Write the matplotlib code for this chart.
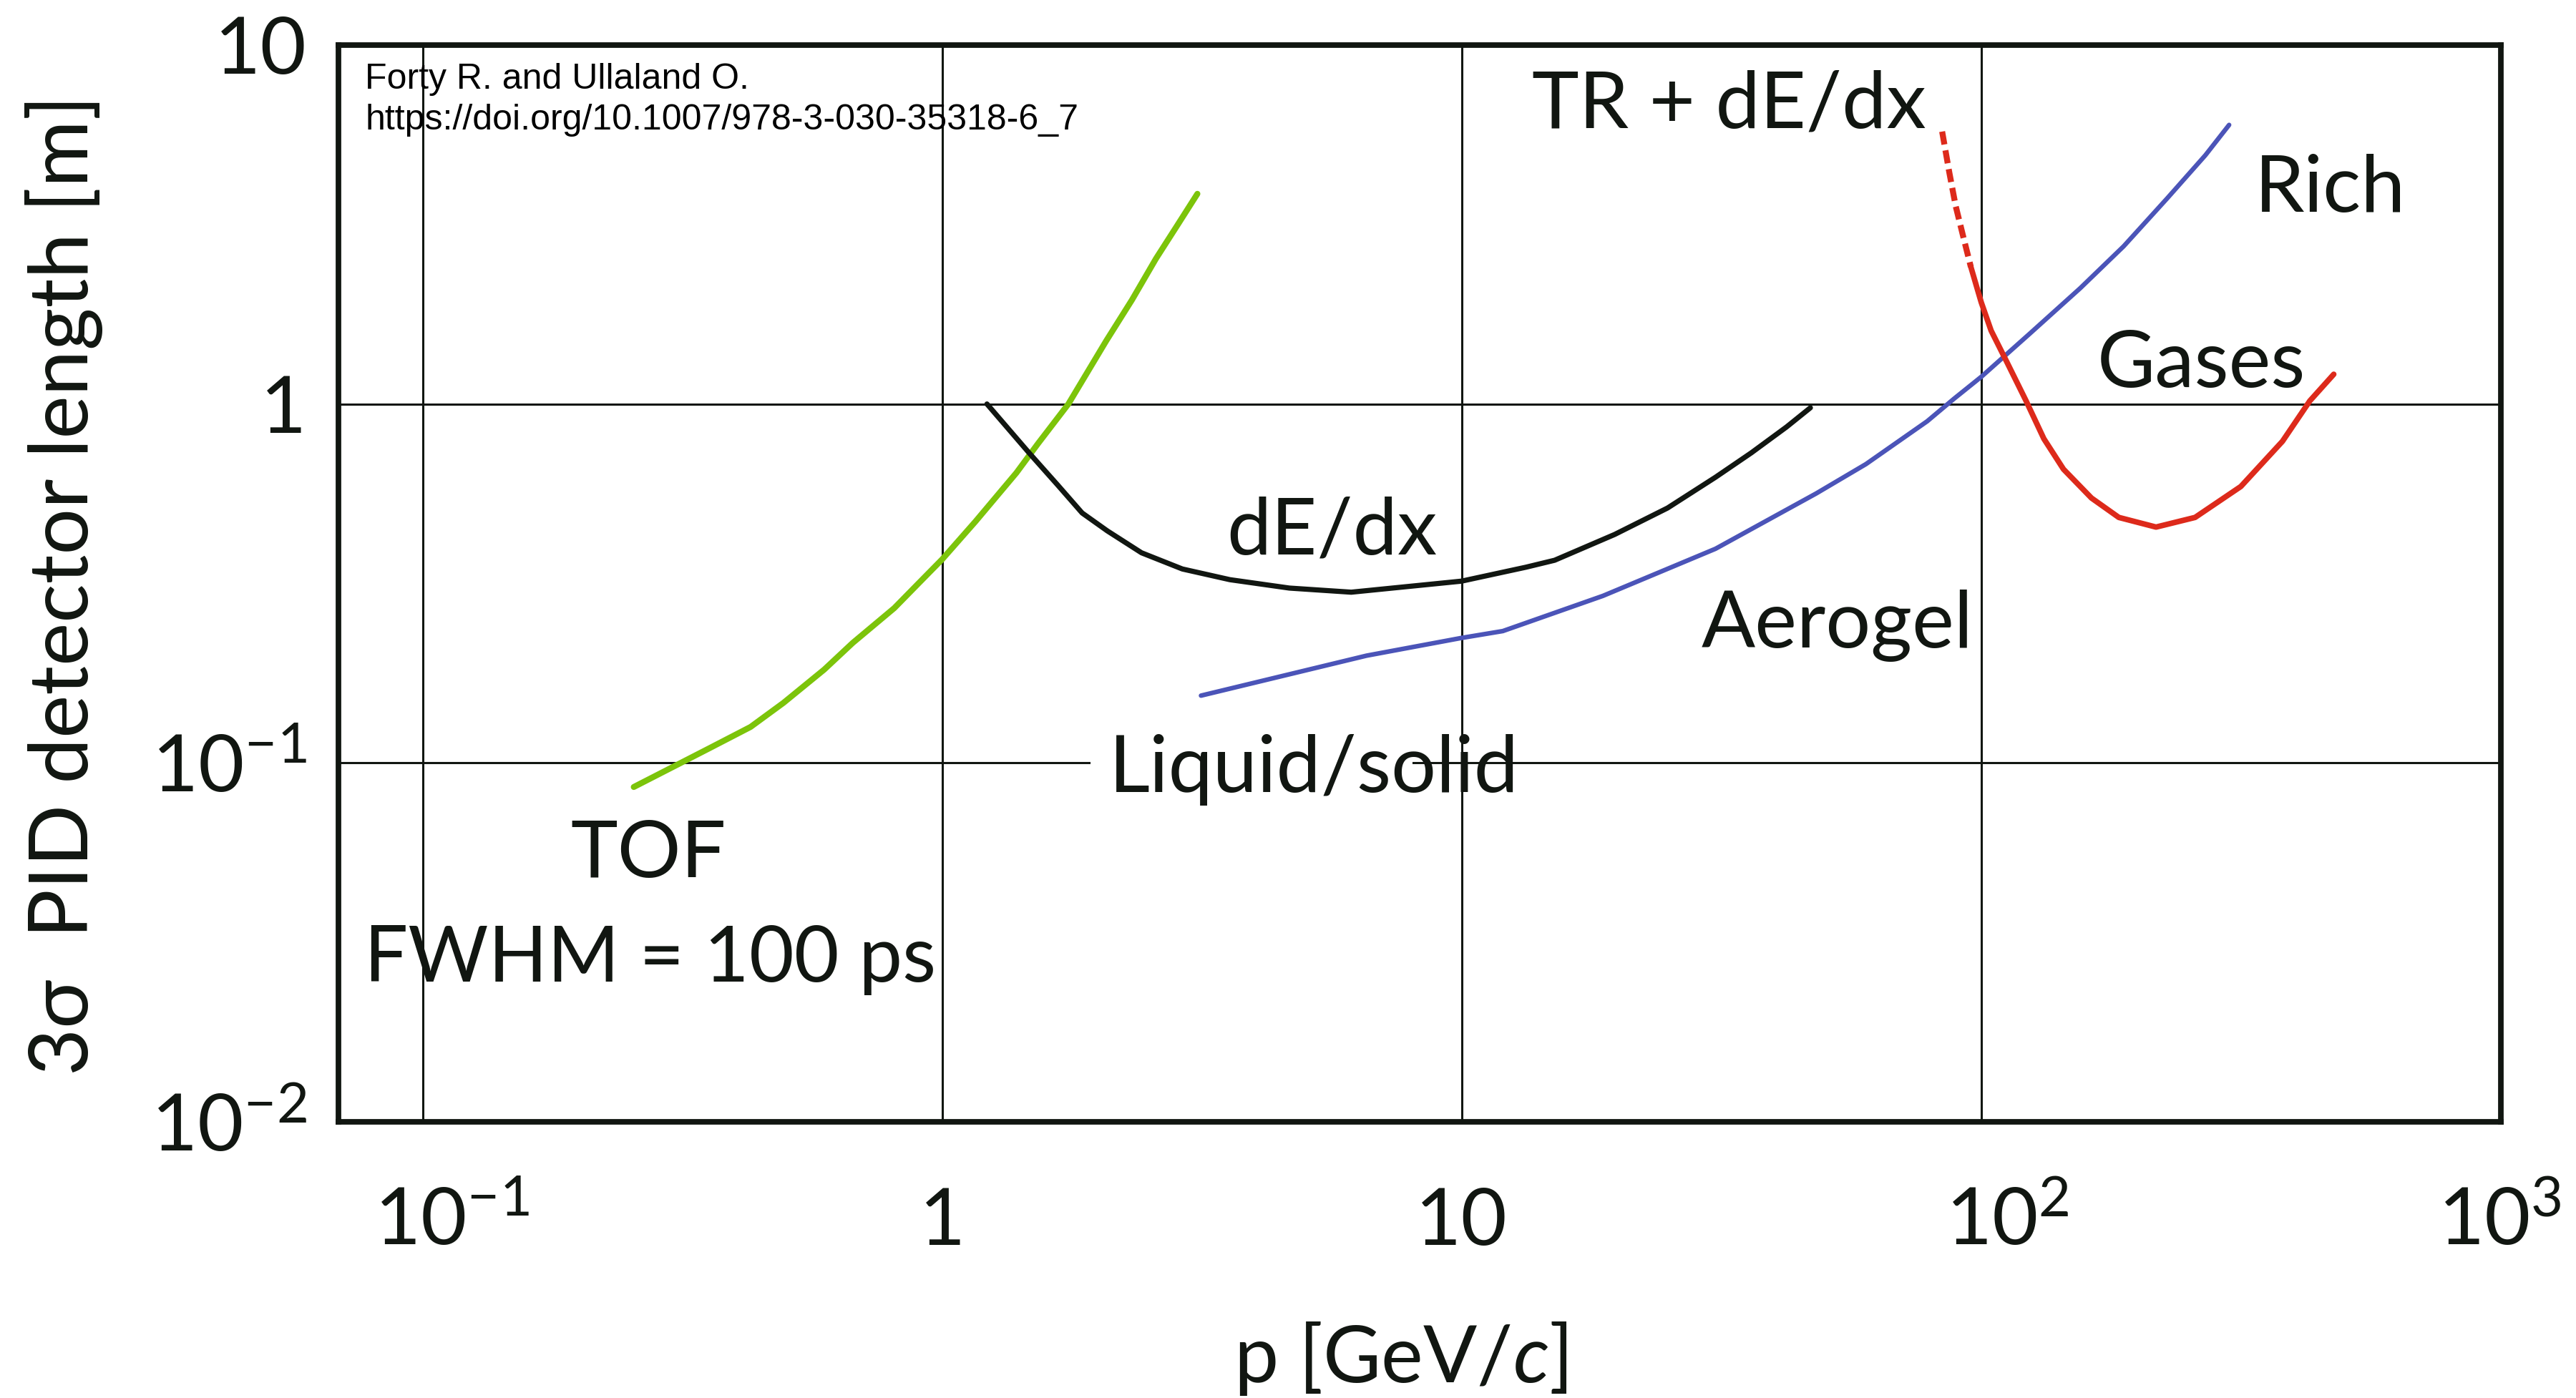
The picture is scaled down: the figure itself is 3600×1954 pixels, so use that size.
"""PID detector length needed for 3 sigma separation vs momentum."""
import matplotlib
matplotlib.use("Agg")
import matplotlib.pyplot as plt
from matplotlib.transforms import ScaledTranslation

FONT = "Lato"
plt.rcParams["font.family"] = [FONT, "DejaVu Sans"]
plt.rcParams["mathtext.fontset"] = "custom"
plt.rcParams["mathtext.rm"] = FONT
plt.rcParams["mathtext.it"] = FONT + ":italic"
plt.rcParams["mathtext.default"] = "regular"

INK = "#111611"

# TOF, FWHM = 100 ps
tof_p = [0.255, 0.314, 0.357, 0.428, 0.495, 0.593, 0.673, 0.809, 0.900, 1.0,
         1.16, 1.39, 1.53, 1.75, 2.07, 2.32, 2.58, 2.83, 3.10]
tof_L = [0.0857, 0.100, 0.110, 0.126, 0.147, 0.182, 0.216, 0.270, 0.316, 0.369,
         0.471, 0.643, 0.776, 1.0, 1.50, 1.95, 2.54, 3.13, 3.85]

# dE/dx
dedx_p = [1.22, 1.47, 1.67, 1.86, 2.08, 2.42, 2.90, 3.58, 4.66, 6.13, 10.0,
          13.3, 15.1, 19.7, 24.9, 30.8, 36.1, 42.2, 46.9]
dedx_L = [1.0, 0.731, 0.594, 0.497, 0.443, 0.385, 0.347, 0.324, 0.307, 0.299, 0.321,
          0.351, 0.367, 0.433, 0.513, 0.625, 0.731, 0.863, 0.976]

# Cherenkov: liquid/solid -> aerogel -> gases (Rich)
rich_p = [3.15, 6.56, 10.0, 12.0, 18.7, 30.8, 48.1, 60.0, 78.7, 88.7, 100,
          124, 155, 188, 228, 270, 300]
rich_L = [0.154, 0.199, 0.223, 0.233, 0.292, 0.395, 0.563, 0.680, 0.895, 1.035, 1.19,
          1.57, 2.10, 2.75, 3.74, 4.93, 5.99]

# TR + dE/dx (dashed part, then solid)
trd_p = [84.1, 86.8, 89.3, 92.1, 95.5]
trd_L = [5.74, 4.42, 3.56, 2.97, 2.41]
tr_p = [95.5, 100, 104.5, 112, 122, 132, 144, 163, 184, 217, 258, 316, 380, 429, 477]
tr_L = [2.41, 1.92, 1.60, 1.31, 1.02, 0.80, 0.658, 0.547, 0.483, 0.454, 0.483,
        0.589, 0.787, 1.02, 1.21]

xticks = [0.1, 1, 10, 100, 1000]
xtick_base = ["10", "1", "10", "10", "10"]
xtick_sup = ["-1", "", "", "2", "3"]
yticks = [0.01, 0.1, 1, 10]
yticklabels = [r"$10^{-2}$", r"$10^{-1}$", "1", "10"]

fig = plt.figure(figsize=(18, 9.77), dpi=200)
ax = fig.add_axes([0.1314, 0.1975, 0.8394, 0.7703])
ax.set_xscale("log")
ax.set_yscale("log")
ax.set_xlim(0.0689, 970)
ax.set_ylim(0.01, 10)

# grid (the 10^-1 line is broken behind the "Liquid/" label)
for xv in [0.1, 1, 10, 100]:
    ax.axvline(xv, color=INK, lw=1.1, zorder=1)
ax.axhline(1, color=INK, lw=1.1, zorder=1)
ax.axhline(0.1, xmax=0.347, color=INK, lw=1.1, zorder=1)
ax.axhline(0.1, xmin=0.497, color=INK, lw=1.1, zorder=1)

ax.plot(tof_p, tof_L, color="#7cc40a", lw=3.0, solid_capstyle="round", zorder=3)
ax.plot(dedx_p, dedx_L, color=INK, lw=2.6, solid_capstyle="round", zorder=3)
ax.plot(rich_p, rich_L, color="#4b54b8", lw=2.3, solid_capstyle="round", zorder=3)
ax.plot(trd_p, trd_L, color="#dd2a1b", lw=3.0, dashes=(2.2, 1.0), zorder=3)
ax.plot(tr_p, tr_L, color="#dd2a1b", lw=2.8, solid_capstyle="round", zorder=3)

for sp in ax.spines.values():
    sp.set_linewidth(2.8)
    sp.set_color(INK)
    sp.set_zorder(4)

ax.set_yticks(yticks, yticklabels)
ax.set_xticks(xticks, [""] * len(xticks))
ax.minorticks_off()
ax.tick_params(axis="both", length=0, labelsize=40, colors=INK)
ax.tick_params(axis="y", pad=16)

# x tick labels drawn by hand: powers of ten start a fixed distance left of
# their tick (pixels at 200 dpi), plain numbers are centred
left_px = [-68, 0, 0, -50, -88]
for xv, base, sup, dx in zip(xticks, xtick_base, xtick_sup, left_px):
    if sup:
        tr = ax.get_xaxis_transform() + ScaledTranslation(dx / fig.dpi, 0,
                                                          fig.dpi_scale_trans)
        ax.text(xv, -0.1143, rf"${base}^{{{sup}}}$", transform=tr, fontsize=40,
                color=INK, ha="left", va="baseline", clip_on=False)
    else:
        ax.text(xv, -0.1143, base, transform=ax.get_xaxis_transform(), fontsize=40,
                color=INK, ha="center", va="baseline", clip_on=False)

lab_kw = dict(fontsize=40, color=INK, ha="center", va="baseline", zorder=5)
ax.text(32.7, 5.87, "TR + dE/dx", **lab_kw)
ax.text(470, 3.43, "Rich", **lab_kw)
ax.text(265, 1.114, "Gases", **lab_kw)
ax.text(5.63, 0.381, "dE/dx", **lab_kw)
ax.text(52.8, 0.210, "Aerogel", **lab_kw)
ax.text(5.2, 0.0829, "Liquid/solid", **lab_kw)
ax.text(0.272, 0.0481, "TOF", **lab_kw)
ax.text(0.274, 0.0246, "FWHM = 100 ps", **dict(lab_kw, fontsize=39))

fig.text(0.5436, 0.0115, r"p [GeV/$\mathit{c}$]", fontsize=40, color=INK,
         ha="center", va="baseline")
fig.text(0.025, 0.5814, "3σ  PID detector length [m]", fontsize=41, color=INK,
         rotation=90, ha="center", va="center")

cite_kw = dict(fontsize=18, color="black", family="Liberation Sans", va="baseline")
fig.text(0.1417, 0.9365, "Forty R. and Ullaland O.", **cite_kw)
fig.text(0.1417, 0.9074, "https://doi.org/10.1007/978-3-030-35318-6_7", **cite_kw)

fig.savefig("out.png", dpi=200, facecolor="white")
